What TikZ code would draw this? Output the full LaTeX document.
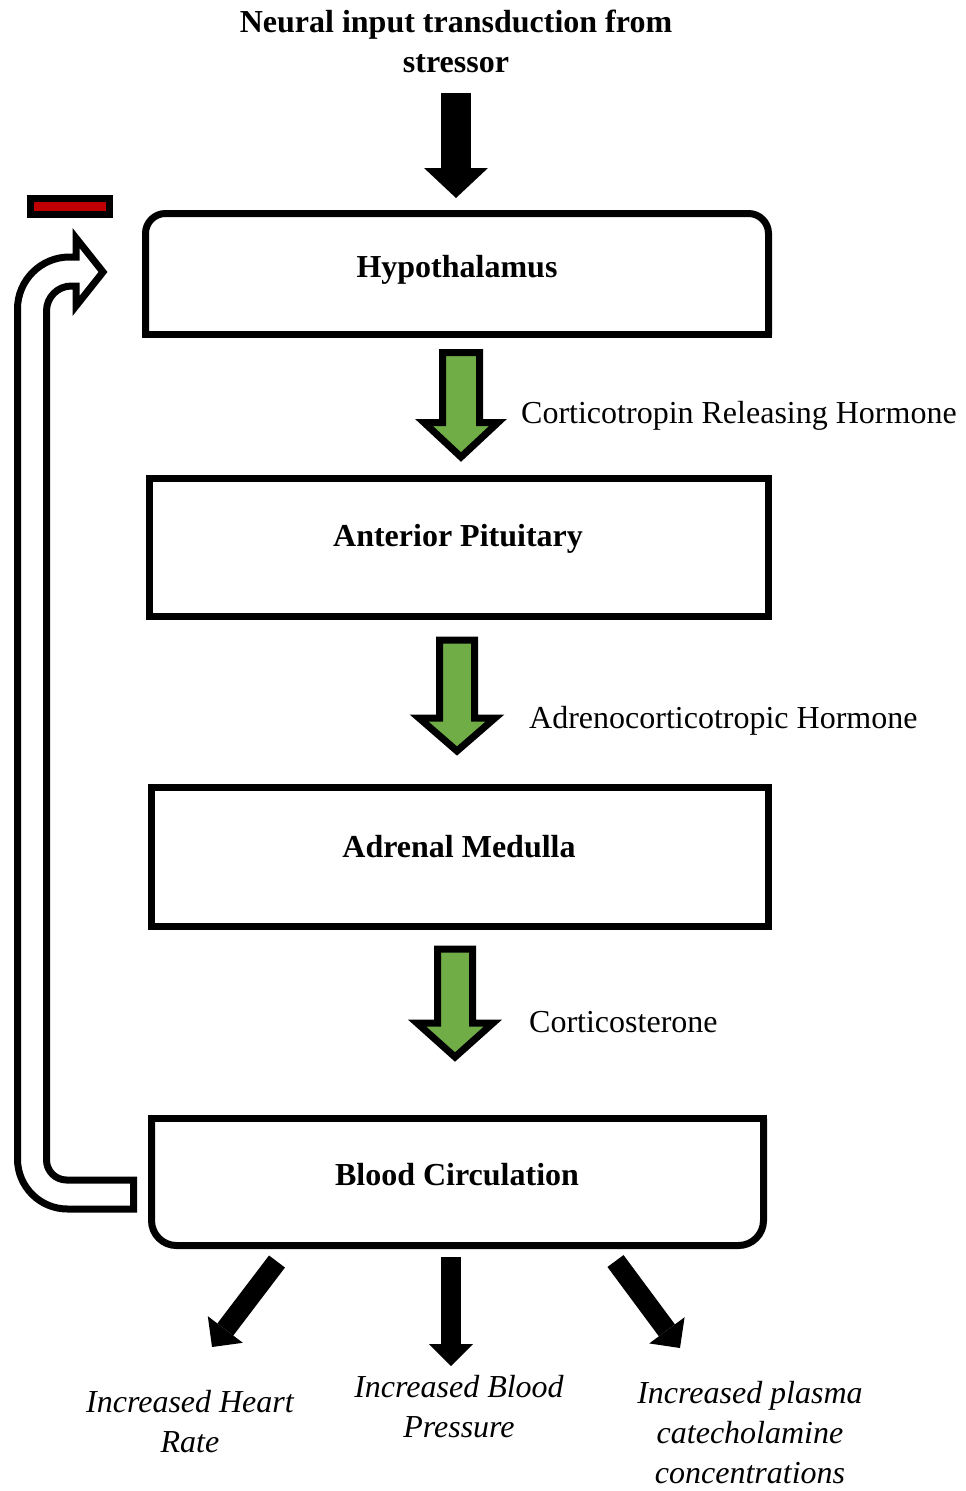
\documentclass[tikz,border=0pt]{standalone}
\usepackage{fontspec}
\setmainfont{Liberation Serif}
\usetikzlibrary{arrows.meta}
\definecolor{hormonegreen}{HTML}{70AD47}
\definecolor{inhibred}{HTML}{C00000}
% #1 centre x, #2 top y, #3 head base y, #4 tip y, #5 half shaft, #6 half head
\newcommand{\hormonearrow}[6]{%
  \draw[greenarrow] (#1-#5,#2) -- (#1+#5,#2) -- (#1+#5,#3) -- (#1+#6,#3) -- (#1,#4)
    -- (#1-#6,#3) -- (#1-#5,#3) -- cycle;}
\begin{document}
\begin{tikzpicture}[x=1pt,y=-1pt,
  boxline/.style={line width=7pt, line join=miter},
  boxshape/.style={inner sep=0pt, outer sep=0pt},
  boxlabel/.style={font=\fontsize{32}{40}\selectfont\bfseries, inner sep=0pt, anchor=base},
  hormone/.style={font=\fontsize{32}{40}\selectfont, inner sep=0pt, anchor=base west},
  effect/.style={font=\fontsize{32}{40}\selectfont\itshape, inner sep=0pt, align=center, anchor=base},
  greenarrow/.style={fill=hormonegreen, draw=black, line width=7pt, line join=miter},
  bigarrow/.style={line width=20pt, -{Triangle[length=22pt,width=44pt,line width=0pt]}},
  inputarrow/.style={line width=30pt, -{Triangle[length=30pt,width=64pt,line width=0pt]}},
  feedback/.style={draw=black, fill=white, line width=7pt, line join=miter},
]
\fill[white] (0,0) rectangle (966,1491);
\useasboundingbox (0,0) rectangle (966,1491);

% title (base anchor = baseline of the last line)
\node[boxlabel, align=center] (title) at (456,72) {Neural input transduction from\\stressor};

% boxes
\node[boxshape, minimum width=623pt, minimum height=121pt] (hyp) at (457,274) {};
\draw[boxline, rounded corners=20pt] (hyp.south west) -- (hyp.north west) -- (hyp.north east) -- (hyp.south east);
\draw[boxline, line cap=rect] (hyp.south east) -- (hyp.south west);
\node[boxlabel] (hyplabel) at (457,277) {Hypothalamus};

\node[boxshape, draw, boxline, minimum width=619pt, minimum height=138pt] (ap) at (459,547.5) {};
\node[boxlabel] (aplabel) at (458,546) {Anterior Pituitary};

\node[boxshape, draw, boxline, minimum width=617pt, minimum height=139pt] (am) at (460,857) {};
\node[boxlabel] (amlabel) at (459,857) {Adrenal Medulla};

\node[boxshape, minimum width=612pt, minimum height=127pt] (blood) at (457.5,1182) {};
\draw[boxline, rounded corners=25pt] (blood.north west) -- (blood.south west) -- (blood.south east) -- (blood.north east);
\draw[boxline, line cap=rect] (blood.north east) -- (blood.north west);
\node[boxlabel] (bloodlabel) at (457,1185) {Blood Circulation};

% input arrow
\coordinate (inS) at (456,93);
\coordinate (inE) at (456,198);
\draw[inputarrow] (inS) -- (inE);

% hormone arrows
\hormonearrow{461}{352.5}{422.5}{457}{18.5}{37}
\node[hormone] (crh) at (521,423) {Corticotropin Releasing Hormone};
\hormonearrow{457}{640}{718}{751}{17.5}{38}
\node[hormone] (acth) at (529,728) {Adrenocorticotropic Hormone};
\hormonearrow{455}{949}{1023}{1057}{17.5}{38}
\node[hormone] (cort) at (529,1032) {Corticosterone};

% feedback arrow
\draw[feedback] (133.5,1209) -- (67.5,1209)
  .. controls (39.9,1209) and (17.5,1186.6) .. (17.5,1159)
  -- (17.5,309)
  .. controls (17.5,280.3) and (40.8,257) .. (69.5,257)
  -- (76,257) -- (76,238) -- (103,272) -- (76,306) -- (76,286) -- (71.5,286)
  .. controls (57.7,286) and (46.5,297.2) .. (46.5,311)
  -- (46.5,1160)
  .. controls (46.5,1171) and (55.5,1180) .. (66.5,1180)
  -- (133.5,1180) -- cycle;
\node[draw=black, fill=inhibred, line width=6.5pt, minimum width=79pt, minimum height=16pt, inner sep=0pt] (minus) at (70,206.5) {};

% effects
\coordinate (hrS) at (277,1261.5);
\coordinate (hrE) at (212,1347);
\coordinate (bpS) at (451,1257);
\coordinate (bpE) at (451,1366);
\coordinate (pcS) at (615.5,1261);
\coordinate (pcE) at (680,1348);
\draw[bigarrow] (hrS) -- (hrE);
\draw[bigarrow] (bpS) -- (bpE);
\draw[bigarrow] (pcS) -- (pcE);
\node[effect] (hr) at (190,1452) {Increased Heart\\Rate};
\node[effect] (bp) at (459,1437) {Increased Blood\\Pressure};
\node[effect] (pc) at (750,1483) {Increased plasma\\catecholamine\\concentrations};
\end{tikzpicture}
\end{document}
